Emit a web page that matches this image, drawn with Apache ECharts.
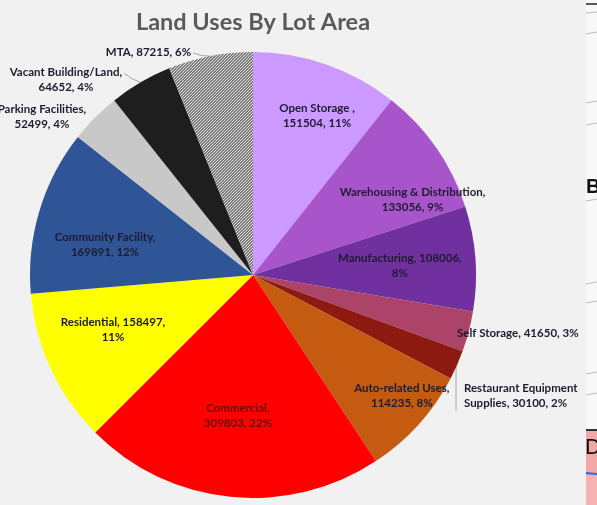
<!DOCTYPE html>
<html>
<head>
<meta charset="utf-8">
<script src="https://cdn.jsdelivr.net/npm/echarts@6/dist/echarts.min.js"></script>
<style>
  html, body { margin: 0; padding: 0; background: #f1f1f1; }
  #chart { width: 597px; height: 505px; }
</style>
</head>
<body>
<div id="chart"></div>
<script>
// Land use categories, clockwise from twelve o'clock
const categories = [
  'Open Storage ', 'Warehousing & Distribution', 'Manufacturing', 'Self Storage',
  'Restaurant Equipment\nSupplies', 'Auto-related Uses', 'Commercial', 'Residential',
  'Community Facility', 'Parking Facilities', 'Vacant Building/Land', 'MTA'
];
// Lot area per category
const lotArea = [151504, 133056, 108006, 41650, 30100, 114235, 309803, 158497, 169891, 52499, 64652, 87215];

// Slice fills (the MTA slice gets a hatch pattern)
const sliceColors = [
  '#cc99ff', '#a855cc', '#7030a0', '#ac4368', '#8c1a10', '#c55a11',
  '#ff0000', '#ffff00', '#2f5597', '#c8c8c8', '#1e1e1e', 'hatch'
];
// Where the line break goes in each label
const labelWrap = ['name', 'name', 'value', 'none', 'none', 'name', 'name', 'value', 'name', 'name', 'name', 'none'];
// Label anchor: [angle from top in degrees, distance as fraction of radius, text align]
const labelSpot = [
  [21.9, 0.77, 'center'], [64.9, 0.79, 'center'], [86.5, 0.66, 'center'], [105.9, 0.951, 'left'],
  [119.8, 1.09, 'left'], [129.1, 0.86, 'center'], [186.1, 0.636, 'center'], [248.6, 0.674, 'center'],
  [281.5, 0.677, 'center'], [306.8, 1.182, 'center'], [316.2, 1.212, 'center'], [344.5, 1.038, 'right']
];
// Which labels get a leader line: 'side' runs to the label's side, 'down' drops vertically
const leader = [null, null, null, null, 'down', null, null, null, null, null, 'side', 'side'];

const PIE_CX = 253, PIE_CY = 275, PIE_R = 223;

function hatchPattern() {
  const c = document.createElement('canvas');
  c.width = 3; c.height = 3;
  const g = c.getContext('2d');
  g.fillStyle = '#2a2a2a';
  g.fillRect(0, 0, 3, 3);
  g.strokeStyle = '#e2e2e2';
  g.lineWidth = 1.25;
  g.beginPath();
  g.moveTo(-1, 4); g.lineTo(4, -1);
  g.moveTo(-1, 1); g.lineTo(1, -1);
  g.moveTo(2, 4); g.lineTo(4, 2);
  g.stroke();
  return c;
}
const hatch = { image: hatchPattern(), repeat: 'repeat' };

const total = lotArea.reduce((a, b) => a + b, 0);
const midAngle = [];
let acc = 0;
lotArea.forEach(v => { midAngle.push((acc + v / 2) / total * 360); acc += v; });

function polar(angleDeg, dist) {
  const a = angleDeg * Math.PI / 180;
  return [PIE_CX + dist * Math.sin(a), PIE_CY - dist * Math.cos(a)];
}

const data = categories.map((name, i) => ({
  name: name,
  value: lotArea[i],
  itemStyle: { color: sliceColors[i] === 'hatch' ? hatch : sliceColors[i] },
  label: {
    position: leader[i] || labelSpot[i][1] > 0.9 ? 'outside' : 'inside',
    color: i === 6 ? '#6a0c0c' : '#1c1c30'
  },
  labelLine: { show: !!leader[i] }
}));

const chart = echarts.init(document.getElementById('chart'), null, { renderer: 'canvas' });
chart.setOption({
  backgroundColor: '#f1f1f1',
  animation: false,
  title: {
    text: 'Land Uses By Lot Area',
    left: PIE_CX - 5,
    textAlign: 'center',
    top: 5,
    textStyle: { fontFamily: 'Lato', fontWeight: 'bold', fontSize: 23.5, color: '#5a5a5a' }
  },
  series: [{
    type: 'pie',
    center: [PIE_CX, PIE_CY],
    radius: PIE_R,
    startAngle: 90,
    clockwise: true,
    percentPrecision: 0,
    avoidLabelOverlap: false,
    itemStyle: { borderWidth: 0 },
    label: {
      fontFamily: 'Lato',
      fontWeight: 'bold',
      fontSize: 11.5,
      lineHeight: 15,
      formatter: p => {
        const w = labelWrap[p.dataIndex];
        if (w === 'name') return p.name + ',\n' + p.value + ', ' + p.percent + '%';
        if (w === 'value') return p.name + ', ' + p.value + ',\n' + p.percent + '%';
        return p.name + ', ' + p.value + ', ' + p.percent + '%';
      }
    },
    labelLine: { lineStyle: { color: '#a6a6a6', width: 1 } },
    labelLayout: params => {
      const i = params.dataIndex;
      const [ang, frac, align] = labelSpot[i];
      const [x, y] = polar(ang, frac * PIE_R);
      const out = { x: x, y: y, align: align, verticalAlign: 'middle' };
      const edge = polar(midAngle[i], PIE_R);
      const w = params.labelRect.width, h = params.labelRect.height;
      if (leader[i] === 'side') {
        const endX = align === 'right' ? x + 2 : x + w / 2 + 2;
        const endY = h > 20 ? y - h / 4 + 1 : y + 1;
        out.labelLinePoints = [edge, [(edge[0] + endX) / 2, (edge[1] + endY) / 2 + 1], [endX, endY]];
      } else if (leader[i] === 'down') {
        const bx = edge[0] - 1;
        out.labelLinePoints = [[bx, edge[1] + 1], [bx, y + h / 2 - 1], [bx, y + h / 2]];
      }
      return out;
    },
    data: data
  }],
  graphic: [
    { type: 'rect', shape: { x: 586, y: 0, width: 11, height: 505 }, style: { fill: '#f8f8f8' } },
    { type: 'line', shape: { x1: 586, y1: 4, x2: 597, y2: 4 }, style: { stroke: '#222', lineWidth: 1.5 } },
    { type: 'line', shape: { x1: 586, y1: 13, x2: 597, y2: 12 }, style: { stroke: '#bbb', lineWidth: 1 } },
    { type: 'line', shape: { x1: 586, y1: 34, x2: 597, y2: 32 }, style: { stroke: '#bbb', lineWidth: 1 } },
    { type: 'line', shape: { x1: 586, y1: 103, x2: 597, y2: 101 }, style: { stroke: '#bbb', lineWidth: 1 } },
    { type: 'line', shape: { x1: 586, y1: 125, x2: 597, y2: 123 }, style: { stroke: '#bbb', lineWidth: 1 } },
    { type: 'text', x: 586, y: 177, style: { text: 'B', fontFamily: 'Liberation Sans', fontWeight: 'bold', fontSize: 20, fill: '#111' } },
    { type: 'line', shape: { x1: 586, y1: 201, x2: 597, y2: 199 }, style: { stroke: '#bbb', lineWidth: 1 } },
    { type: 'line', shape: { x1: 586, y1: 284, x2: 597, y2: 282 }, style: { stroke: '#bbb', lineWidth: 1 } },
    { type: 'line', shape: { x1: 586, y1: 303, x2: 597, y2: 301 }, style: { stroke: '#bbb', lineWidth: 1 } },
    { type: 'line', shape: { x1: 586, y1: 374, x2: 597, y2: 372 }, style: { stroke: '#bbb', lineWidth: 1 } },
    { type: 'line', shape: { x1: 586, y1: 395, x2: 597, y2: 393 }, style: { stroke: '#bbb', lineWidth: 1 } },
    { type: 'rect', shape: { x: 586, y: 429, width: 11, height: 76 }, style: { fill: '#f2a7a7' } },
    { type: 'line', shape: { x1: 586, y1: 430, x2: 597, y2: 430 }, style: { stroke: '#333', lineWidth: 2 } },
    { type: 'text', x: 585, y: 437, style: { text: 'D', fontFamily: 'Liberation Sans', fontSize: 22, fill: '#111' } },
    { type: 'line', shape: { x1: 586, y1: 473, x2: 597, y2: 474 }, style: { stroke: '#2f6fd0', lineWidth: 2 } },
    { type: 'rect', shape: { x: 586, y: 476, width: 11, height: 29 }, style: { fill: '#f5b3b3' } }
  ]
});
</script>
</body>
</html>
